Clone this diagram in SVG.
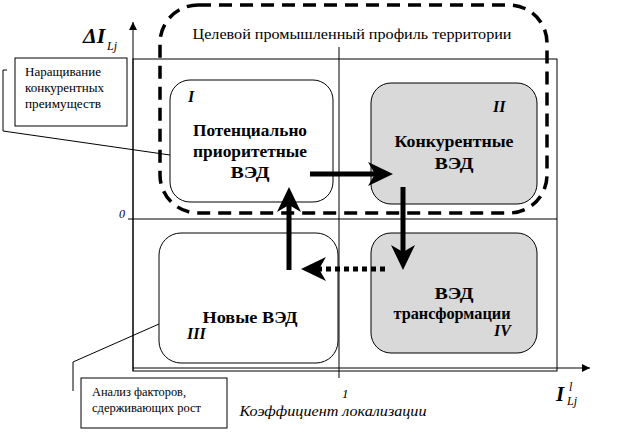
<svg xmlns="http://www.w3.org/2000/svg" width="644" height="432" viewBox="0 0 644 432" font-family="'Liberation Serif', 'Times New Roman', 'DejaVu Serif', serif">
<style>
text{fill:#000}
.lbl{font-size:17px;font-weight:bold;text-anchor:middle}
.num{font-size:16px;font-weight:bold;font-style:italic}
.small{font-size:12.5px}
.thin{fill:none;stroke:#000;stroke-width:1}
.box{stroke:#000;stroke-width:1}
.white{fill:#fff}
.gray{fill:#d9d9d9}
.thick{fill:none;stroke:#000;stroke-width:5}
</style>
<defs>
<marker id="head" markerUnits="userSpaceOnUse" viewBox="0 0 25 24" refX="8" refY="12" markerWidth="25" markerHeight="24" orient="auto">
<path d="M0,0 L25,12 L0,24 L7,12 Z" fill="#000"/>
</marker>
<marker id="axhead" markerUnits="userSpaceOnUse" viewBox="0 0 8 8" refX="8" refY="4" markerWidth="8" markerHeight="8" orient="auto">
<path d="M0,0 L8,4 L0,8 Z" fill="#000"/>
</marker>
</defs>

<g id="frame">
<rect x="133" y="59" width="424" height="312" class="thin"/>
<line x1="128" y1="219" x2="557" y2="219" class="thin"/>
<line x1="339" y1="47" x2="339" y2="378" class="thin"/>
<line x1="133" y1="371" x2="133" y2="22" class="thin" marker-end="url(#axhead)"/>
<line x1="133" y1="368" x2="590" y2="368" class="thin" marker-end="url(#axhead)"/>
<text x="119" y="218" font-size="12" font-style="italic">0</text>
<text x="342" y="398" font-size="13" font-style="italic">1</text>
<text x="333" y="416" font-size="14" font-style="italic" text-anchor="middle" textLength="187" lengthAdjust="spacingAndGlyphs">Коэффициент локализации</text>
<text x="83" y="43" font-size="22" font-weight="bold" font-style="italic">ΔI</text>
<text x="107" y="50" font-size="12" font-style="italic">Lj</text>
<text x="556" y="401" font-size="21" font-weight="bold" font-style="italic">I</text>
<text x="569" y="391" font-size="12" font-style="italic">l</text>
<text x="567" y="405" font-size="12" font-style="italic">Lj</text>
</g>

<g id="target">
<rect x="160" y="5" width="387" height="208" rx="38" ry="38" fill="none" stroke="#000" stroke-width="3.5" stroke-dasharray="13 8"/>
<text x="352" y="39" font-size="14" text-anchor="middle" textLength="319" lengthAdjust="spacingAndGlyphs">Целевой промышленный профиль территории</text>
</g>

<g id="node-I">
<rect x="170" y="80" width="163" height="122" rx="20" ry="20" class="box white"/>
<text x="188" y="102" class="num" font-size="15">I</text>
<text x="250" y="136" class="lbl" textLength="114" lengthAdjust="spacingAndGlyphs">Потенциально</text>
<text x="250" y="157" class="lbl" textLength="114" lengthAdjust="spacingAndGlyphs">приоритетные</text>
<text x="250" y="178" class="lbl" textLength="39" lengthAdjust="spacingAndGlyphs">ВЭД</text>
</g>

<g id="node-II">
<rect x="371" y="83" width="166" height="121" rx="20" ry="20" class="box gray"/>
<text x="493" y="112" class="num" font-size="17">II</text>
<text x="454" y="147" class="lbl" textLength="119" lengthAdjust="spacingAndGlyphs">Конкурентные</text>
<text x="454" y="169" class="lbl" textLength="39" lengthAdjust="spacingAndGlyphs">ВЭД</text>
</g>

<g id="node-III">
<rect x="159" y="233" width="179" height="130" rx="22" ry="22" class="box white"/>
<text x="250" y="323" class="lbl" textLength="95" lengthAdjust="spacingAndGlyphs">Новые ВЭД</text>
<text x="187" y="339" class="num" font-size="15">III</text>
</g>

<g id="node-IV">
<rect x="371" y="233" width="166" height="120" rx="20" ry="20" class="box gray"/>
<text x="454" y="299" class="lbl" textLength="39" lengthAdjust="spacingAndGlyphs">ВЭД</text>
<text x="452" y="319" class="lbl" textLength="117" lengthAdjust="spacingAndGlyphs">трансформации</text>
<text x="494" y="336" class="num" font-size="17">IV</text>
</g>

<g id="note-1">
<rect x="15" y="58" width="112" height="68" class="thin" fill="#fff"/>
<text x="25" y="76" class="small" textLength="76" lengthAdjust="spacingAndGlyphs">Наращивание</text>
<text x="25" y="92" class="small" textLength="79" lengthAdjust="spacingAndGlyphs">конкурентных</text>
<text x="25" y="108" class="small" textLength="76" lengthAdjust="spacingAndGlyphs">преимуществ</text>
</g>

<g id="note-2">
<rect x="81" y="378" width="146" height="50" class="thin" fill="#fff"/>
<text x="92" y="396" class="small" textLength="94" lengthAdjust="spacingAndGlyphs">Анализ факторов,</text>
<text x="92" y="412" class="small" textLength="109" lengthAdjust="spacingAndGlyphs">сдерживающих рост</text>
</g>

<g id="connectors">
<polyline points="7,70 3,70 3,131 170,155" class="thin"/>
<polyline points="73,391 73,362 159,324" class="thin"/>
<line x1="310" y1="174" x2="376" y2="174" class="thick" marker-end="url(#head)"/>
<line x1="403" y1="187" x2="403" y2="253" class="thick" marker-end="url(#head)"/>
<line x1="385" y1="269" x2="318" y2="269" class="thick" stroke-dasharray="5 4" marker-end="url(#head)"/>
<line x1="289" y1="270" x2="289" y2="204" class="thick" marker-end="url(#head)"/>
</g>
</svg>
